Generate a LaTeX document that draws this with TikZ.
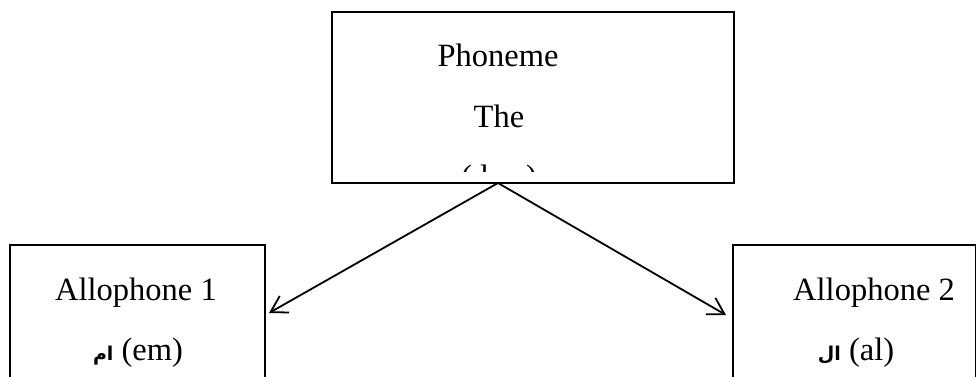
\documentclass[tikz,border=0pt]{standalone}
\usepackage{fontspec}
\setmainfont{Liberation Serif}
\newfontfamily\arabicfont[Script=Arabic]{DejaVu Sans}
\TeXXeTstate=1
\usetikzlibrary{arrows.meta}
\newcommand{\arword}[1]{{\arabicfont\bfseries\fontsize{19}{22}\selectfont\beginR #1\endR}}
\begin{document}
\begin{tikzpicture}[x=1pt,y=-1pt,
  box/.style={draw, line width=2pt, inner sep=0pt, anchor=north west},
  lbl/.style={anchor=base, inner sep=0pt, font=\fontsize{32.5}{39}\selectfont},
  link/.style={line width=1.8pt, -{Straight Barb[length=16pt,width=19pt]}}]
\useasboundingbox (0,0) rectangle (976,377);
\clip (0,0) rectangle (976,377);

% boxes
\node[box, minimum width=402pt, minimum height=171pt] (phon) at (331,11) {};
\node[box, minimum width=255pt, minimum height=200pt] (al1) at (9,244) {};
\node[box, minimum width=243pt, minimum height=200pt] (al2) at (732,244) {};

% phoneme box text
\node[lbl] (t1) at (498,67) {Phoneme};
\node[lbl] (t2) at (499,128) {The};
\begin{scope}
  \clip (331,11) rectangle (733,171);
  \node[lbl, anchor=base west] (t3) at (461,187) {(\hspace{8pt}l\hspace{37pt})};
\end{scope}

% allophone texts
\node[lbl] (a1) at (136,300) {Allophone 1};
\node[lbl] (a1b) at (138,360) {\arword{ام} (em)};
\node[lbl] (a2) at (874,300) {Allophone 2};
\node[lbl] (a2b) at (856,360) {\arword{ال} (al)};

% connectors
\coordinate (fork) at (498,183);
\coordinate (tipL) at (269,313);
\coordinate (tipR) at (726,315);
\draw[link] (fork) -- (tipL);
\draw[link] (fork) -- (tipR);
\end{tikzpicture}
\end{document}
